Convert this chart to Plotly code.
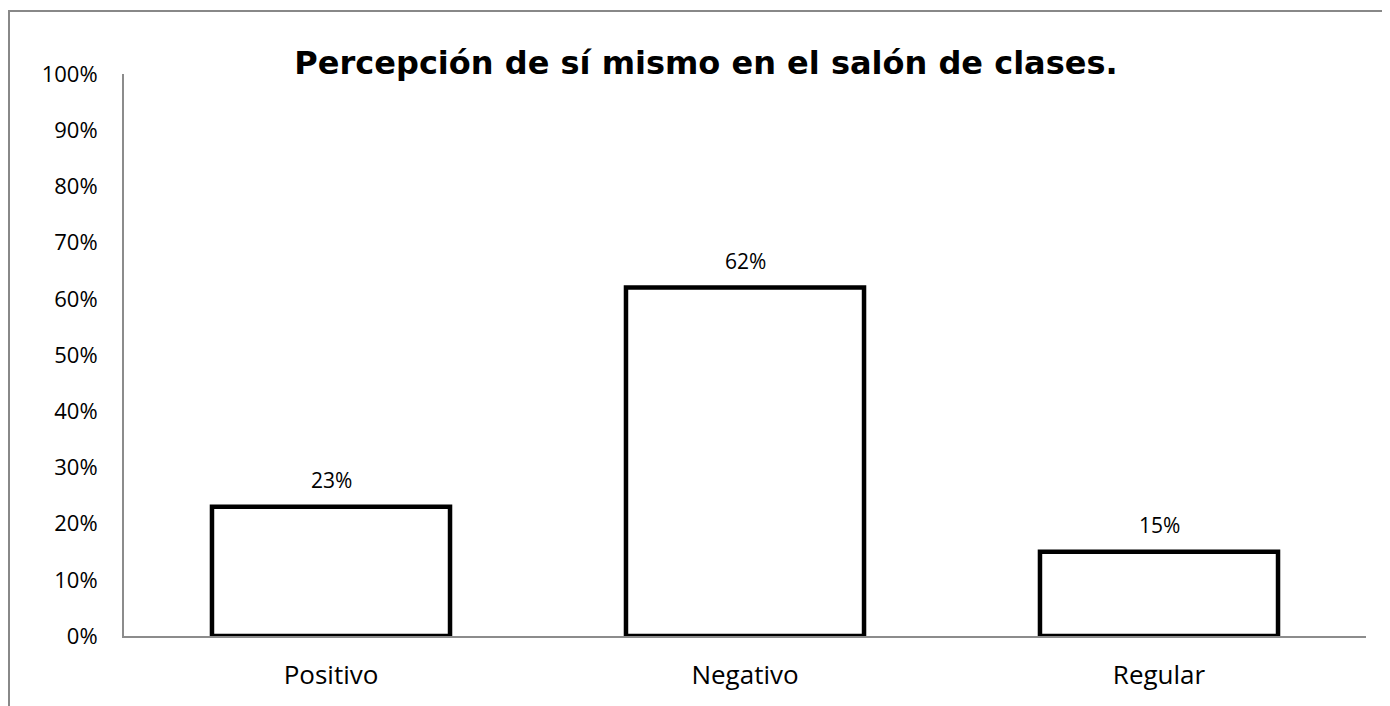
import plotly.graph_objects as go

categories = ["Positivo", "Negativo", "Regular"]
values = [0.23, 0.62, 0.15]
labels = ["23%", "62%", "15%"]
tick_vals = [i / 10 for i in range(11)]
tick_text = [f"{i*10}%" for i in range(11)]

W, H = 1382, 698  # page body adds an 8px margin
L, R, T, B = 116, 24, 66, 70
PW, PH = W - L - R, H - T - B

fig = go.Figure()
fig.add_trace(go.Bar(
    x=categories, y=values, width=0.575,
    marker=dict(color="white", line=dict(color="black", width=4.5)),
    hoverinfo="skip", showlegend=False,
))
for c, v, t in zip(categories, values, labels):
    fig.add_annotation(x=c, y=v, text=t, showarrow=False, yshift=27,
                       font=dict(family="Open Sans, sans-serif", size=21, color="black"))

fig.update_layout(
    width=W, height=H,
    margin=dict(l=L, r=R, t=T, b=B),
    paper_bgcolor="white", plot_bgcolor="white",
    title=dict(text="<b>Percepción de sí mismo en el salón de clases.</b>",
               x=698/W, xanchor="center", y=1-55/H, yanchor="middle",
               font=dict(family="DejaVu Sans, sans-serif", size=32, color="black")),
    font=dict(family="Open Sans, sans-serif", size=22, color="black"),
    bargap=0.425,
)
fig.update_yaxes(range=[0, 1], tickvals=tick_vals, ticktext=tick_text,
                 showgrid=False, zeroline=False, showline=True, linecolor="#8c8c8c", linewidth=2,
                 ticks="", ticklabelstandoff=20, tickfont=dict(size=22))
fig.update_xaxes(showgrid=False, showline=True, linecolor="#8c8c8c", linewidth=2, ticks="",
                 ticklabelstandoff=15, tickfont=dict(size=26))
fig.add_shape(type="rect", xref="paper", yref="paper",
              x0=(1-L)/PW, x1=(W+30-L)/PW, y0=-(B+30)/PH, y1=(T+PH-3)/PH,
              line=dict(color="#888888", width=2), fillcolor="rgba(0,0,0,0)", layer="below")
fig.write_html("out.html")
